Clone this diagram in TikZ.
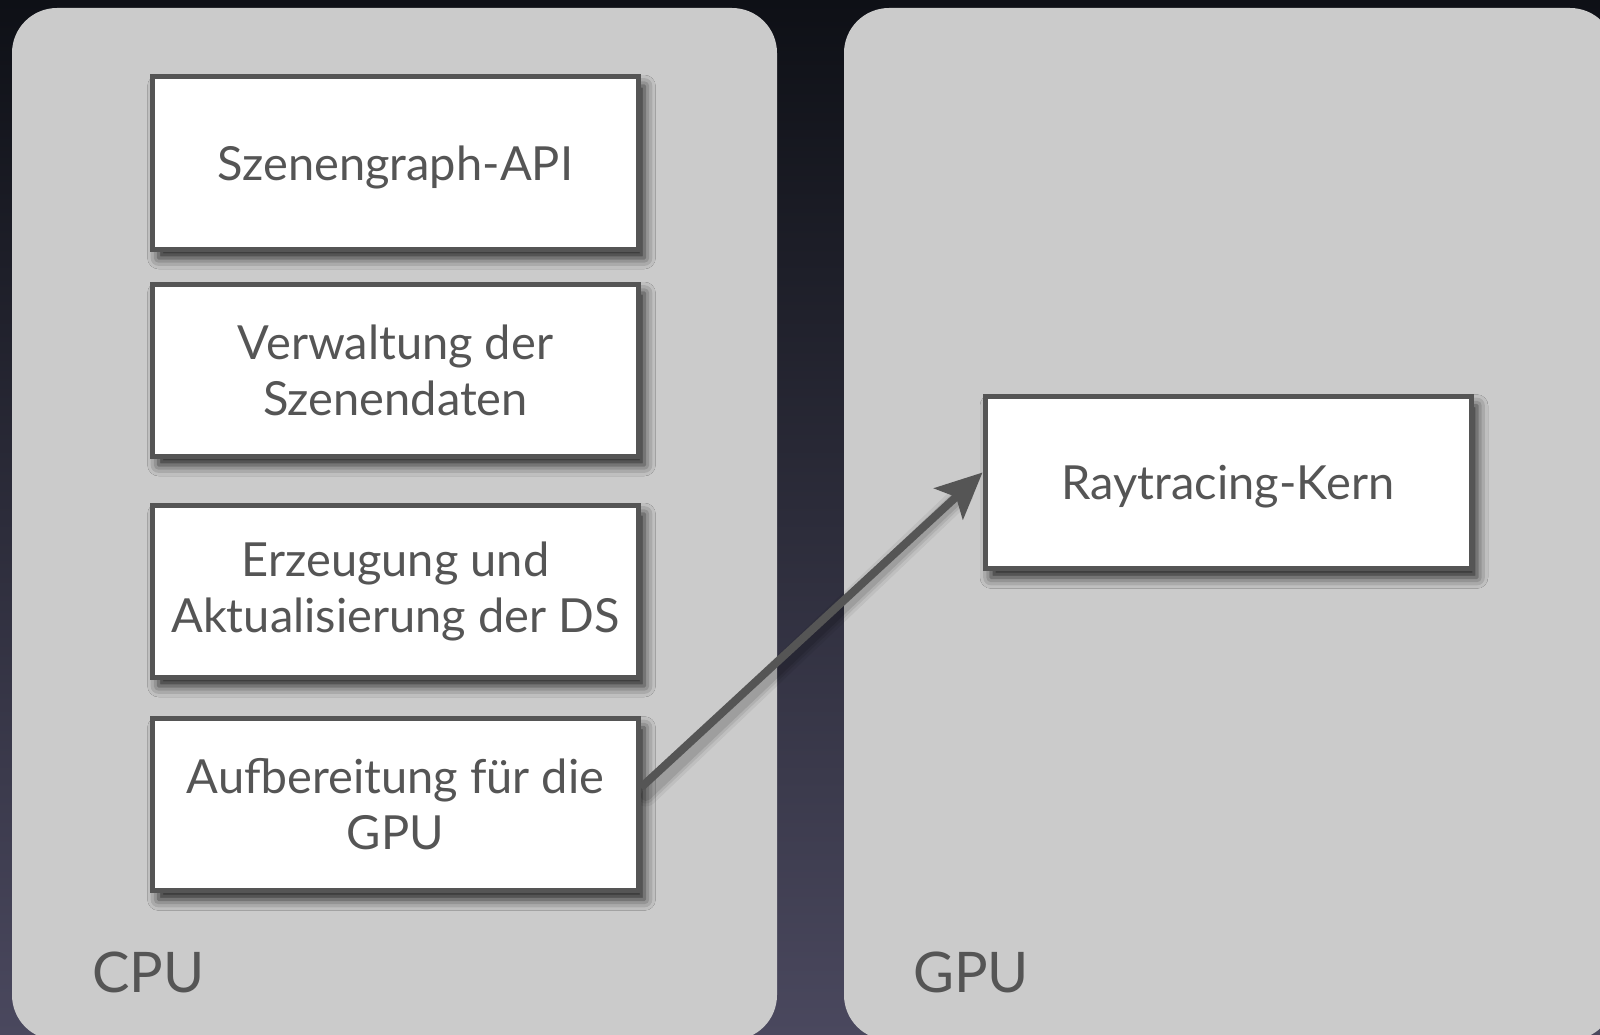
\documentclass[tikz,border=0pt]{standalone}
\usepackage{fontspec}
\setmainfont{Lato}
\usetikzlibrary{arrows.meta,shadows.blur}
\definecolor{panel}{HTML}{CBCBCB}
\definecolor{ink}{HTML}{555555}
\definecolor{bgtop}{HTML}{0E1016}
\definecolor{bgmid}{HTML}{24242F}
\definecolor{bgbot}{HTML}{4A485E}
\pgfdeclarelayer{bg}
\pgfdeclarelayer{sh}
\pgfsetlayers{bg,sh,main}
\begin{document}
\begin{tikzpicture}[x=1pt,y=-1pt,
  box/.style={draw=ink, line width=5pt, fill=white, minimum width=486pt,
    minimum height=172pt, align=center, font=\fontsize{47}{56}\selectfont,
    text=ink, inner sep=0pt,
    blur shadow={shadow xshift=6pt, shadow yshift=-9pt, shadow blur radius=11pt, shadow opacity=85}},
  oneline/.style={text depth=0pt},
  panelbox/.style={fill=panel, rounded corners=45pt},
  lbl/.style={font=\fontsize{56}{60}\selectfont, text=ink, anchor=base west, inner sep=0pt},
  conn/.style={draw=ink, line width=8pt, -{Stealth[length=46pt,width=42pt,inset=10pt]}}]
\useasboundingbox (0,0) rectangle (1600,1035);

\node[box, oneline] (api) at (395.5,163) {Szenengraph-API};
\node[box] (vw) at (395.5,370) {Verwaltung der\\Szenendaten};
\node[box] (ds) at (395.5,591) {Erzeugung und\\Aktualisierung der DS};
\node[box] (gpu) at (395.5,804.5) {Aufbereitung für die\\GPU};
\node[box, oneline] (rt) at (1228,482.5) {Raytracing-Kern};

\node[lbl] (cpulbl) at (92,992) {CPU};
\node[lbl] (gpulbl) at (913,992) {GPU};

\draw[conn] ([yshift=17pt]gpu.east) -- ([yshift=10pt]rt.west);

\begin{pgfonlayer}{bg}
  \shade[top color=bgtop, middle color=bgmid, bottom color=bgbot] (0,0) rectangle (1600,1035);
  \fill[panelbox] (12,8) rectangle (777,1040);
  \fill[panelbox] (844,8) rectangle (1615,1040);
\end{pgfonlayer}
\begin{pgfonlayer}{sh}
  \foreach \w/\o in {22/0.06, 16/0.08, 11/0.10} {
    \draw[black, opacity=\o, line width=\w pt, line cap=round]
      ([xshift=5pt,yshift=9pt]gpu.east) -- ([xshift=-20pt,yshift=-12pt]rt.west);
  }
\end{pgfonlayer}
\end{tikzpicture}
\end{document}
